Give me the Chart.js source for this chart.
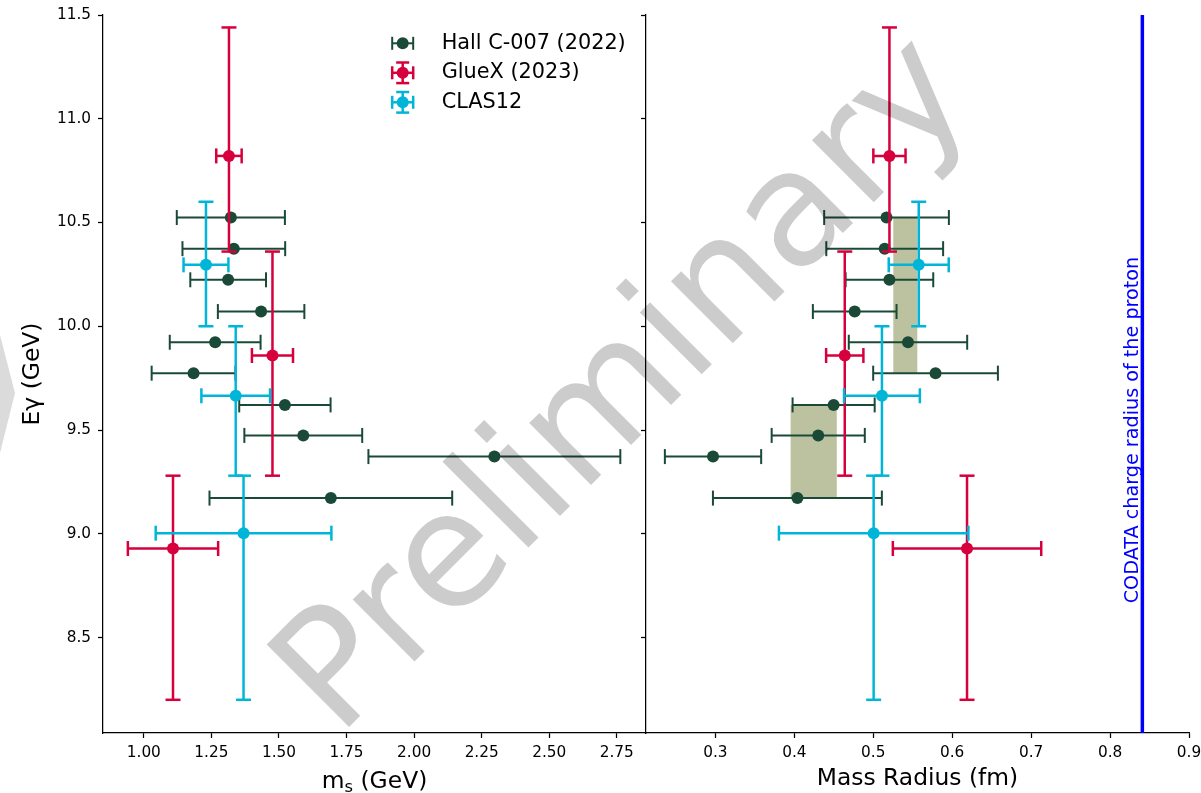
<!DOCTYPE html>
<html>
<head>
<meta charset="utf-8">
<title>Proton mass radius from J/psi photoproduction</title>
<script src="https://cdn.jsdelivr.net/npm/chart.js@4.4.1/dist/chart.umd.min.js"></script>
<style>
  html, body { margin: 0; padding: 0; background: #fff; overflow: hidden; }
  #wrap { position: relative; width: 1201px; height: 793px; }
  #massChart { position: absolute; left: 0; top: 0; }
  #radiusChart { position: absolute; left: 560px; top: 0; }
  #overlay { position: absolute; left: 0; top: 0; pointer-events: none; }
</style>
</head>
<body>
<div id="wrap">
  <canvas id="massChart" width="660" height="793"></canvas>
  <canvas id="radiusChart" width="641" height="793"></canvas>
  <svg id="overlay" width="1201" height="793" viewBox="0 0 1201 793">
    <polygon points="0,335 15,393 0,453" fill="#000" fill-opacity="0.14"></polygon>
    <text x="338" y="738" transform="rotate(-45 338 738)" font-family="DejaVu Sans" font-size="160" fill="#000" fill-opacity="0.2">Preliminary</text>
  </svg>
</div>
<script>
// ---- Hall C-007 (2022): photon-energy bins, scalar mass m_s and mass radius ----
const hallE      = [10.524, 10.374, 10.224, 10.071, 9.923, 9.774, 9.621, 9.474, 9.372, 9.172];
const hallMs     = [1.322, 1.333, 1.312, 1.434, 1.264, 1.184, 1.522, 1.590, 2.297, 1.692];
const hallMsErr  = [0.200, 0.190, 0.140, 0.160, 0.168, 0.155, 0.169, 0.218, 0.466, 0.449];
const hallR      = [0.5168, 0.5145, 0.5205, 0.4765, 0.5440, 0.5789, 0.4498, 0.4303, 0.2970, 0.4039];
const hallRErr   = [0.079, 0.074, 0.0555, 0.053, 0.075, 0.079, 0.052, 0.059, 0.061, 0.107];

// ---- GlueX (2023): energy bins given as [low, high] edges ----
const gluexE     = [10.821, 9.859, 8.929];
const gluexELo   = [10.36, 9.28, 8.20];
const gluexEHi   = [11.44, 10.36, 9.28];
const gluexMs    = [1.315, 1.476, 1.108];
const gluexMsErr = [0.047, 0.076, 0.167];
const gluexR     = [0.5205, 0.4639, 0.6188];
const gluexRErr  = [0.0204, 0.0236, 0.094];

// ---- CLAS12 ----
const clasE      = [10.296, 9.665, 9.003];
const clasELo    = [10.00, 9.28, 8.20];
const clasEHi    = [10.60, 10.00, 9.28];
const clasMs     = [1.230, 1.340, 1.369];
const clasMsErr  = [0.083, 0.127, 0.325];
const clasR      = [0.5576, 0.5110, 0.5005];
const clasRErr   = [0.038, 0.048, 0.120];

// ---- averaged radius bands over groups of Hall C bins ----
const bandRLo = [0.5254, 0.3953];
const bandRHi = [0.5558, 0.4538];
const bandELo = [9.774, 9.172];
const bandEHi = [10.524, 9.621];

// ---- CODATA proton charge radius (fm) ----
const codataRadius = 0.8409;
const codataText = 'CODATA charge radius of the proton';

// ---- axis limits and tick labels ----
const eRange = [8.04, 11.5];
const msRange = [0.849, 2.858];
const radiusRange = [0.2121, 0.9];
const eTicks = [8.5, 9.0, 9.5, 10.0, 10.5, 11.0, 11.5];
const msTicks = [1.00, 1.25, 1.50, 1.75, 2.00, 2.25, 2.50, 2.75];
const radiusTicks = [0.3, 0.4, 0.5, 0.6, 0.7, 0.8, 0.9];

const FAMILY = "'DejaVu Sans', sans-serif";
const TICK_FONT = { family: FAMILY, size: 15.3 };
const LABEL_FONT = { family: FAMILY, size: 23.4, lineHeight: 1.2 };

const STYLE = {
  hall:  { color: '#1a4a37', lw: 2.0, cap: 7.5, radius: 6 },
  gluex: { color: '#d6003c', lw: 2.5, cap: 7.5, radius: 6 },
  clas:  { color: '#00b6d8', lw: 2.5, cap: 7.5, radius: 6 }
};

Chart.defaults.font.family = FAMILY;
Chart.defaults.color = '#000';

function strokeLine(ctx, x0, y0, x1, y1) {
  ctx.beginPath(); ctx.moveTo(x0, y0); ctx.lineTo(x1, y1); ctx.stroke();
}

// Draws horizontal and/or vertical error bars with caps (pixel coordinates).
function drawBars(ctx, px, py, xs, ys, st, cap) {
  ctx.save();
  ctx.strokeStyle = st.color;
  ctx.lineWidth = st.lw;
  ctx.lineCap = 'butt';
  if (xs) strokeLine(ctx, xs[0], py, xs[1], py);
  if (ys) strokeLine(ctx, px, ys[0], px, ys[1]);
  if (xs) {
    strokeLine(ctx, xs[0], py - cap, xs[0], py + cap);
    strokeLine(ctx, xs[1], py - cap, xs[1], py + cap);
  }
  if (ys) {
    strokeLine(ctx, px - cap, ys[0], px + cap, ys[0]);
    strokeLine(ctx, px - cap, ys[1], px + cap, ys[1]);
  }
  ctx.restore();
}

function dot(ctx, x, y, r, color) {
  ctx.save();
  ctx.fillStyle = color;
  ctx.beginPath(); ctx.arc(x, y, r, 0, Math.PI * 2); ctx.fill();
  ctx.restore();
}

// Error bars for each dataset, drawn just before that dataset's markers.
function errorBarPlugin(specs) {
  return {
    id: 'errorBars',
    beforeDatasetDraw(chart, args) {
      const spec = specs[args.index];
      if (!spec) return;
      const xs = chart.scales.x, ys = chart.scales.y, ctx = chart.ctx;
      spec.xv.forEach((xv, i) => {
        const yv = spec.yv[i];
        const px = xs.getPixelForValue(xv), py = ys.getPixelForValue(yv);
        const xb = spec.xErr ? [xs.getPixelForValue(xv - spec.xErr[i]), xs.getPixelForValue(xv + spec.xErr[i])] : null;
        const yb = spec.yLo ? [ys.getPixelForValue(spec.yLo[i]), ys.getPixelForValue(spec.yHi[i])] : null;
        drawBars(ctx, px, py, xb, yb, spec.style, spec.style.cap);
      });
    }
  };
}

function pointSet(label, xv, yv, st, order) {
  return {
    label,
    data: xv.map((x, i) => ({ x, y: yv[i] })),
    order,
    showLine: false,
    pointRadius: st.radius,
    pointHoverRadius: st.radius,
    pointBackgroundColor: st.color,
    pointBorderColor: st.color,
    pointBorderWidth: 0
  };
}

function fixedTicks(values) {
  return scale => { scale.ticks = values.map(v => ({ value: v })); };
}
function noAutoPad(scale) {
  scale.paddingLeft = 0; scale.paddingRight = 0; scale.paddingTop = 0; scale.paddingBottom = 0;
}

const GRID = { display: true, drawOnChartArea: false, drawTicks: true, tickLength: 5, tickWidth: 1.25, tickColor: '#000' };
const BORDER = { display: true, color: '#000', width: 1.25 };

function xAxis(range, values, digits, title) {
  return {
    type: 'linear', position: 'bottom', bounds: 'data',
    min: range[0], max: range[1],
    afterBuildTicks: fixedTicks(values),
    afterFit: s => { s.height = 60; noAutoPad(s); },
    ticks: { font: TICK_FONT, color: '#000', padding: 6, maxRotation: 0, autoSkip: false,
             callback: v => Number(v).toFixed(digits) },
    grid: GRID,
    border: BORDER,
    title: title
      ? { display: true, text: title, font: LABEL_FONT, color: '#000', padding: { top: 0, bottom: 0 } }
      : { display: false }
  };
}

function yAxis(width, showLabels, title) {
  return {
    type: 'linear', position: 'left', bounds: 'data',
    min: eRange[0], max: eRange[1],
    afterBuildTicks: fixedTicks(eTicks),
    afterFit: s => { s.width = width; noAutoPad(s); },
    ticks: { display: showLabels, font: TICK_FONT, color: '#000', padding: 7, autoSkip: false,
             callback: v => Number(v).toFixed(1) },
    grid: GRID,
    border: BORDER,
    title: title
      ? { display: true, text: title, font: LABEL_FONT, color: '#000', padding: { top: 19, bottom: 0 } }
      : { display: false }
  };
}

function baseOptions(x, y, padding) {
  return {
    responsive: false,
    animation: false,
    devicePixelRatio: 1,
    events: [],
    layout: { padding, autoPadding: false },
    plugins: { legend: { display: false }, tooltip: { enabled: false } },
    scales: { x, y }
  };
}

// Legend in the upper part of the left panel.
const legendPlugin = {
  id: 'errorLegend',
  afterDatasetsDraw(chart) {
    const ctx = chart.ctx;
    const styles = [STYLE.hall, STYLE.gluex, STYLE.clas];
    const withY = [false, true, true];
    const x0 = 402.7, y0 = 43.3, dy = 29.5, hw = 10.5, hh = 10.3, textX = 441.7;
    chart.data.datasets.forEach((ds, i) => {
      const st = styles[i];
      const y = y0 + i * dy;
      drawBars(ctx, x0, y, [x0 - hw, x0 + hw], withY[i] ? [y - hh, y + hh] : null, st, 6.5);
      dot(ctx, x0, y, st.radius, st.color);
      ctx.save();
      ctx.fillStyle = '#000';
      ctx.font = '20.8px ' + FAMILY;
      ctx.textAlign = 'left';
      ctx.textBaseline = 'middle';
      ctx.fillText(ds.label, textX, y);
      ctx.restore();
    });
  }
};

// x-axis title with a subscript: m_s (GeV)
const msTitlePlugin = {
  id: 'msTitle',
  afterDraw(chart) {
    const ctx = chart.ctx, area = chart.chartArea;
    const big = LABEL_FONT.size, small = big * 0.7;
    const baseline = 787.5;
    ctx.save();
    ctx.fillStyle = '#000';
    ctx.textBaseline = 'alphabetic';
    ctx.textAlign = 'left';
    ctx.font = big + 'px ' + FAMILY;
    const wM = ctx.measureText('m').width;
    const wRest = ctx.measureText(' (GeV)').width;
    ctx.font = small + 'px ' + FAMILY;
    const wS = ctx.measureText('s').width;
    const total = wM + wS + wRest;
    let x = (area.left + area.right) / 2 - total / 2;
    ctx.font = big + 'px ' + FAMILY;
    ctx.fillText('m', x, baseline);
    x += wM;
    ctx.font = small + 'px ' + FAMILY;
    ctx.fillText('s', x, baseline + 4.5);
    x += wS;
    ctx.font = big + 'px ' + FAMILY;
    ctx.fillText(' (GeV)', x, baseline);
    ctx.restore();
  }
};

// Shaded radius bands behind the points.
const bandPlugin = {
  id: 'radiusBands',
  beforeDatasetsDraw(chart) {
    const xs = chart.scales.x, ys = chart.scales.y, ctx = chart.ctx;
    ctx.save();
    ctx.fillStyle = 'rgb(188,194,160)';
    bandRLo.forEach((r0, i) => {
      const xa = xs.getPixelForValue(r0), xb = xs.getPixelForValue(bandRHi[i]);
      const ya = ys.getPixelForValue(bandEHi[i]), yb = ys.getPixelForValue(bandELo[i]);
      ctx.fillRect(xa, ya, xb - xa, yb - ya);
    });
    ctx.restore();
  }
};

// Vertical reference line at the CODATA charge radius, with its caption.
const codataPlugin = {
  id: 'codataLine',
  afterDatasetsDraw(chart) {
    const xs = chart.scales.x, ys = chart.scales.y, ctx = chart.ctx, area = chart.chartArea;
    const px = xs.getPixelForValue(codataRadius);
    ctx.save();
    ctx.strokeStyle = '#0000ff';
    ctx.lineWidth = 3.5;
    strokeLine(ctx, px, area.top, px, area.bottom);
    ctx.translate(xs.getPixelForValue(0.8354), ys.getPixelForValue(9.5));
    ctx.rotate(-Math.PI / 2);
    ctx.fillStyle = '#0000ff';
    ctx.font = '19.2px ' + FAMILY;
    ctx.textAlign = 'center';
    ctx.textBaseline = 'alphabetic';
    ctx.fillText(codataText, 0, 0);
    ctx.restore();
  }
};

// Left panel: scalar mass m_s
new Chart(document.getElementById('massChart'), {
  type: 'scatter',
  data: {
    datasets: [
      pointSet('Hall C-007 (2022)', hallMs, hallE, STYLE.hall, 3),
      pointSet('GlueX (2023)', gluexMs, gluexE, STYLE.gluex, 2),
      pointSet('CLAS12', clasMs, clasE, STYLE.clas, 1)
    ]
  },
  options: baseOptions(
    xAxis(msRange, msTicks, 2, null),
    yAxis(103, true, 'Eγ (GeV)'),
    { top: 15, right: 14, bottom: 0, left: 0 }
  ),
  plugins: [
    errorBarPlugin([
      { xv: hallMs, yv: hallE, xErr: hallMsErr, style: STYLE.hall },
      { xv: gluexMs, yv: gluexE, xErr: gluexMsErr, yLo: gluexELo, yHi: gluexEHi, style: STYLE.gluex },
      { xv: clasMs, yv: clasE, xErr: clasMsErr, yLo: clasELo, yHi: clasEHi, style: STYLE.clas }
    ]),
    legendPlugin,
    msTitlePlugin
  ]
});

// Right panel: mass radius
new Chart(document.getElementById('radiusChart'), {
  type: 'scatter',
  data: {
    datasets: [
      pointSet('Hall C-007 (2022)', hallR, hallE, STYLE.hall, 3),
      pointSet('GlueX (2023)', gluexR, gluexE, STYLE.gluex, 2),
      pointSet('CLAS12', clasR, clasE, STYLE.clas, 1)
    ]
  },
  options: baseOptions(
    xAxis(radiusRange, radiusTicks, 1, 'Mass Radius (fm)'),
    yAxis(86, false, null),
    { top: 15, right: 12, bottom: 0, left: 0 }
  ),
  plugins: [
    bandPlugin,
    errorBarPlugin([
      { xv: hallR, yv: hallE, xErr: hallRErr, style: STYLE.hall },
      { xv: gluexR, yv: gluexE, xErr: gluexRErr, yLo: gluexELo, yHi: gluexEHi, style: STYLE.gluex },
      { xv: clasR, yv: clasE, xErr: clasRErr, yLo: clasELo, yHi: clasEHi, style: STYLE.clas }
    ]),
    codataPlugin
  ]
});
</script>
</body>
</html>
